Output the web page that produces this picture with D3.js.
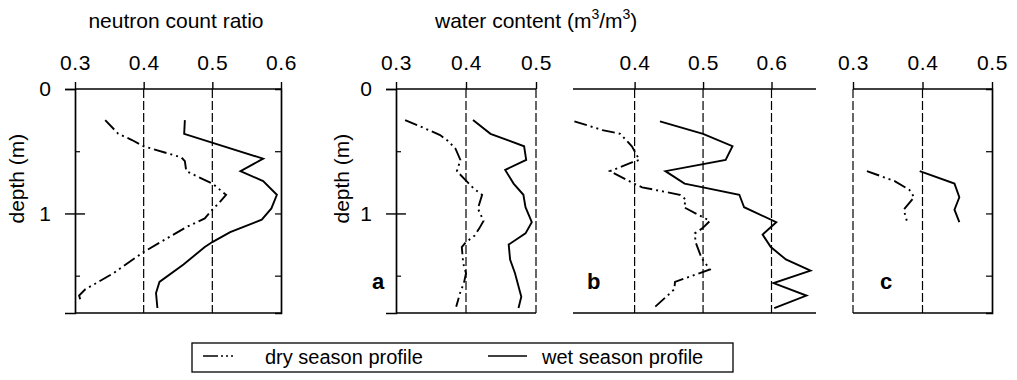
<!DOCTYPE html>
<html>
<head>
<meta charset="utf-8">
<script src="https://cdn.jsdelivr.net/npm/d3@7"></script>
<style>
  body { margin: 0; background: #fff; }
  text { font-family: "Liberation Sans", Arial, sans-serif; fill: #000; }
</style>
</head>
<body>
<script>
// depth (m) / value pairs
const neutronDryDepth = [0.25, 0.36, 0.41, 0.46, 0.55, 0.58, 0.66, 0.76, 0.85, 0.92, 0.97, 1.04, 1.11, 1.31, 1.48, 1.61, 1.66, 1.72];
const neutronDryVal   = [0.344, 0.363, 0.383, 0.400, 0.455, 0.460, 0.462, 0.500, 0.520, 0.509, 0.500, 0.489, 0.462, 0.400, 0.356, 0.315, 0.306, 0.309];
const neutronWetDepth = [0.25, 0.36, 0.56, 0.66, 0.74, 0.85, 0.96, 1.05, 1.15, 1.23, 1.27, 1.41, 1.55, 1.64, 1.76];
const neutronWetVal   = [0.460, 0.459, 0.574, 0.541, 0.574, 0.594, 0.586, 0.572, 0.526, 0.500, 0.489, 0.458, 0.423, 0.418, 0.420];

const aDryDepth = [0.25, 0.34, 0.37, 0.42, 0.48, 0.57, 0.66, 0.73, 0.80, 0.85, 0.96, 1.06, 1.12, 1.18, 1.23, 1.27, 1.40, 1.48, 1.56, 1.63, 1.75];
const aDryVal   = [0.313, 0.351, 0.363, 0.375, 0.385, 0.392, 0.387, 0.399, 0.411, 0.423, 0.417, 0.425, 0.419, 0.412, 0.400, 0.394, 0.396, 0.400, 0.397, 0.392, 0.386];
const aWetDepth = [0.25, 0.36, 0.46, 0.57, 0.65, 0.76, 0.85, 0.95, 1.07, 1.16, 1.25, 1.37, 1.48, 1.67, 1.76];
const aWetVal   = [0.410, 0.435, 0.483, 0.486, 0.456, 0.468, 0.482, 0.485, 0.494, 0.485, 0.461, 0.463, 0.470, 0.479, 0.475];

const bDryDepth = [0.26, 0.33, 0.36, 0.46, 0.57, 0.59, 0.66, 0.76, 0.79, 0.85, 0.89, 0.95, 1.06, 1.12, 1.16, 1.23, 1.36, 1.45, 1.55, 1.61, 1.76];
const bDryVal   = [0.312, 0.353, 0.379, 0.396, 0.407, 0.396, 0.364, 0.399, 0.411, 0.466, 0.475, 0.472, 0.510, 0.499, 0.488, 0.489, 0.498, 0.510, 0.459, 0.458, 0.428];
const bWetDepth = [0.26, 0.36, 0.46, 0.57, 0.66, 0.76, 0.79, 0.85, 0.95, 1.07, 1.17, 1.27, 1.37, 1.46, 1.56, 1.66, 1.76];
const bWetVal   = [0.437, 0.500, 0.543, 0.533, 0.445, 0.473, 0.500, 0.553, 0.560, 0.607, 0.587, 0.599, 0.621, 0.657, 0.603, 0.651, 0.604];

const cDryDepth = [0.66, 0.74, 0.81, 0.87, 0.97, 1.07];
const cDryVal   = [0.320, 0.360, 0.381, 0.388, 0.373, 0.378];
const cWetDepth = [0.66, 0.76, 0.87, 0.97, 1.07];
const cWetVal   = [0.396, 0.446, 0.453, 0.446, 0.453];

const depthTicks = [0, 1];
const depthMinor = [0.5, 1.5];
const legendLabels = ["dry season profile", "wet season profile"];

const w = 1017, h = 380,
      yTop = 89, yBot = 313,
      dryDash = "13,4,2,4,2,4";

const svg = d3.select("body").append("svg")
    .attr("width", w)
    .attr("height", h);

const y = d3.scaleLinear().domain([0, 1.8]).range([yTop, yBot]);

const panels = [
  { dom: [0.3, 0.6], rng: [75, 281], ticks: [0.3, 0.4, 0.5, 0.6], dashed: [0.4, 0.5], left: true, right: true, lab: 58,
    dry: [neutronDryDepth, neutronDryVal], wet: [neutronWetDepth, neutronWetVal] },
  { dom: [0.3, 0.5], rng: [396, 536], ticks: [0.3, 0.4, 0.5], dashed: [0.4, 0.5], left: true, right: false, lab: 54,
    letter: "a", lx: -18,
    dry: [aDryDepth, aDryVal], wet: [aWetDepth, aWetVal] },
  { dom: [0.31, 0.665], rng: [573, 816], ticks: [0.4, 0.5, 0.6], dashed: [0.4, 0.5, 0.6], left: false, right: false,
    letter: "b", lx: 14,
    dry: [bDryDepth, bDryVal], wet: [bWetDepth, bWetVal] },
  { dom: [0.3, 0.5], rng: [853, 992], ticks: [0.3, 0.4, 0.5], dashed: [0.3, 0.4], left: false, right: true,
    letter: "c", lx: 27,
    dry: [cDryDepth, cDryVal], wet: [cWetDepth, cWetVal] }
];

panels.forEach(p => {
  const x = d3.scaleLinear().domain(p.dom).range(p.rng);
  const g = svg.append("g");

  // top axis with labels
  const xa = g.append("g")
      .attr("transform", "translate(0," + yTop + ")")
      .call(d3.axisTop(x).tickValues(p.ticks).tickFormat(d3.format(".1f")).tickSize(7).tickPadding(12));
  xa.select(".domain").remove();
  xa.selectAll("line").attr("stroke", "#000").attr("stroke-width", 1.4);
  xa.selectAll("text").attr("font-size", 21).attr("letter-spacing", 0.6)
      .attr("font-family", "Liberation Sans, Arial, sans-serif").attr("fill", "#000");

  // frame top & bottom
  g.append("line").attr("x1", p.rng[0]).attr("x2", p.rng[1]).attr("y1", yTop).attr("y2", yTop)
      .attr("stroke", "#000").attr("stroke-width", 1.7);
  g.append("line").attr("x1", p.rng[0]).attr("x2", p.rng[1]).attr("y1", yBot).attr("y2", yBot)
      .attr("stroke", "#000").attr("stroke-width", 1.7);

  // dashed grid
  g.selectAll(".grid").data(p.dashed).enter().append("line")
      .attr("x1", d => x(d)).attr("x2", d => x(d))
      .attr("y1", yTop).attr("y2", yBot)
      .attr("stroke", "#000").attr("stroke-width", 1.2)
      .attr("stroke-dasharray", "9,3");

  if (p.left) {
    const la = g.append("g")
        .attr("transform", "translate(" + p.rng[0] + ",0)")
        .call(d3.axisLeft(y).tickValues(depthTicks).tickFormat(d3.format("d")).tickSize(10).tickPadding(14));
    la.select(".domain").attr("stroke-width", 1.7);
    la.selectAll(".tick line").attr("x2", -10).attr("x1", d => d === 0 ? 0 : 10).attr("stroke-width", 1.4);
    la.selectAll("text").attr("font-size", 21)
        .attr("font-family", "Liberation Sans, Arial, sans-serif").attr("fill", "#000");
    const lm = g.append("g")
        .attr("transform", "translate(" + p.rng[0] + ",0)")
        .call(d3.axisRight(y).tickValues(depthMinor).tickSize(5).tickFormat(""));
    lm.select(".domain").remove();
    lm.selectAll("line").attr("stroke-width", 1.2);

    svg.append("text")
        .attr("transform", "translate(" + (p.rng[0] - p.lab) + "," + y(0.72) + ") rotate(-90)")
        .attr("text-anchor", "middle")
        .attr("dy", "0.35em")
        .attr("font-size", 21)
        .text("depth (m)");
  }
  if (p.right) {
    const ra = g.append("g")
        .attr("transform", "translate(" + p.rng[1] + ",0)")
        .call(d3.axisLeft(y).tickValues(depthMinor.concat(depthTicks.slice(1))).tickSize(6).tickFormat(""));
    ra.select(".domain").attr("stroke-width", 1.7);
    ra.selectAll("line").attr("stroke-width", 1.2);
  }

  const line = d3.line().x(d => x(d[1])).y(d => y(d[0]));
  const dry = d3.zip(p.dry[0], p.dry[1]);
  const wet = d3.zip(p.wet[0], p.wet[1]);
  g.append("path").datum(dry).attr("d", line)
      .attr("fill", "none").attr("stroke", "#000").attr("stroke-width", 1.9)
      .attr("stroke-dasharray", dryDash);
  g.append("path").datum(wet).attr("d", line)
      .attr("fill", "none").attr("stroke", "#000").attr("stroke-width", 1.9);

  if (p.letter) {
    g.append("text")
        .attr("x", p.rng[0] + p.lx)
        .attr("y", y(1.55) + 7)
        .attr("text-anchor", p.left ? "middle" : "start")
        .attr("font-size", 22)
        .attr("font-weight", "bold")
        .text(p.letter);
  }
});

// titles
svg.append("text").attr("x", 176).attr("y", 28).attr("text-anchor", "middle")
    .attr("font-size", 21).text("neutron count ratio");

const wt = svg.append("text").attr("x", 435).attr("y", 28).attr("font-size", 21);
wt.append("tspan").text("water content (m");
wt.append("tspan").attr("dy", -9).attr("font-size", 14).text("3");
wt.append("tspan").attr("dy", 9).text("/m");
wt.append("tspan").attr("dy", -9).attr("font-size", 14).text("3");
wt.append("tspan").attr("dy", 9).text(")");

// legend
const lg = svg.append("g");
lg.append("rect").attr("x", 192).attr("y", 343).attr("width", 541).attr("height", 29)
    .attr("fill", "none").attr("stroke", "#000").attr("stroke-width", 1.3);
lg.append("line").attr("x1", 203).attr("x2", 236).attr("y1", 356).attr("y2", 356)
    .attr("stroke", "#000").attr("stroke-width", 1.5).attr("stroke-dasharray", "15,3,2,3,2,3,2,3");
lg.append("text").attr("x", 265).attr("y", 364).attr("font-size", 20).text(legendLabels[0]);
lg.append("line").attr("x1", 488).attr("x2", 527).attr("y1", 356).attr("y2", 356)
    .attr("stroke", "#000").attr("stroke-width", 1.5);
lg.append("text").attr("x", 542).attr("y", 364).attr("font-size", 20).text(legendLabels[1]);
</script>
</body>
</html>
